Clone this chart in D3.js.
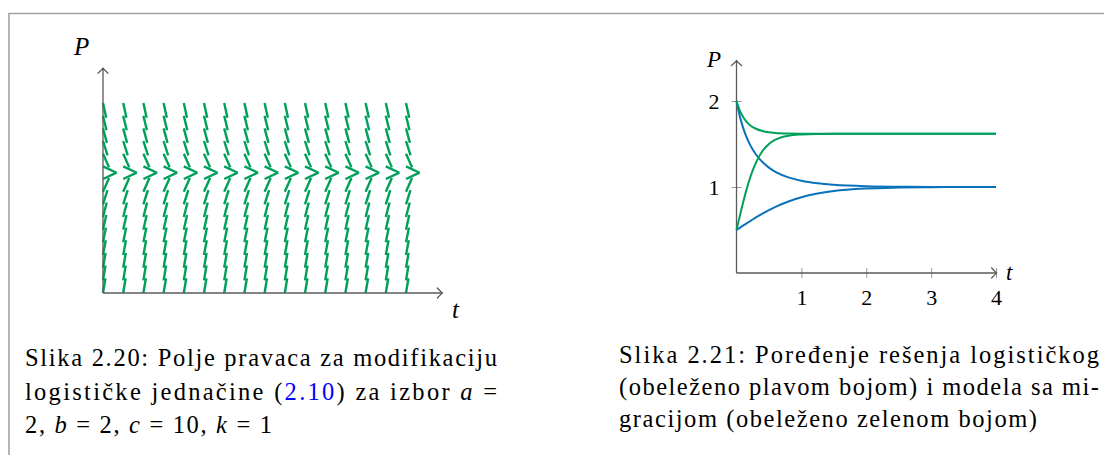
<!DOCTYPE html>
<html>
<head>
<meta charset="utf-8">
<script src="https://cdn.jsdelivr.net/npm/d3@7"></script>
<style>
  html, body { margin: 0; padding: 0; background: #fff; }
  svg { display: block; }
  #fig text, #fig tspan { font-family: "Liberation Serif", "Noto Serif CJK SC", monospace !important; }
</style>
</head>
<body>
<svg id="fig" width="1104" height="455"></svg>
<script>
// ---- Direction field (Slika 2.20): grid of t, P and slope dP/dt for each row ----
const fieldT = [0, 0.2, 0.4, 0.6, 0.8, 1.0, 1.2, 1.4, 1.6, 1.8, 2.0, 2.2, 2.4, 2.6, 2.8, 3.0];
const fieldP = [0, 0.2, 0.4, 0.6, 0.8, 1.0, 1.2, 1.4, 1.6, 1.8, 2.0, 2.2, 2.4, 2.6, 2.8, 3.0];
const fieldSlope = [9.6, 9.4, 9.0, 8.5, 7.9, 7.1, 6.2, 5.1, 3.6, 0.75, -0.75, -3.6, -5.0, -5.9, -6.6, -7.2];

// ---- Solution curves (Slika 2.21) ----
const solT          = [0, 0.05, 0.1, 0.15, 0.2, 0.25, 0.3, 0.4, 0.5, 0.6, 0.8, 1.0, 1.25, 1.5, 2, 2.5, 3, 3.5, 4];
const logisticLow   = [0.5, 0.525, 0.55, 0.574, 0.599, 0.622, 0.646, 0.69, 0.731, 0.769, 0.832, 0.881, 0.924, 0.953, 0.982, 0.993, 0.998, 0.999, 1.0];
const logisticHigh  = [2.0, 1.826, 1.693, 1.588, 1.504, 1.435, 1.378, 1.29, 1.225, 1.177, 1.112, 1.073, 1.043, 1.026, 1.009, 1.003, 1.001, 1.0, 1.0];
const migrationLow  = [0.5, 0.661, 0.815, 0.958, 1.084, 1.193, 1.284, 1.418, 1.501, 1.551, 1.597, 1.611, 1.617, 1.618, 1.618, 1.618, 1.618, 1.618, 1.618];
const migrationHigh = [2.0, 1.892, 1.817, 1.764, 1.725, 1.697, 1.677, 1.651, 1.636, 1.628, 1.621, 1.619, 1.618, 1.618, 1.618, 1.618, 1.618, 1.618, 1.618];

const tickT = [1, 2, 3, 4];
const tickP = [1, 2];

// ---- Captions: each line is a list of [text, style] pieces ----
const captionLeft = [
  [["Slika 2.20:  Polje pravaca za modifikaciju", ""]],
  [["logističke jednačine (", ""], ["2.10", "ref"], [") za izbor ", ""], ["a", "it"], [" =", ""]],
  [["2, ", ""], ["b", "it"], [" = 2, ", ""], ["c", "it"], [" = 10, ", ""], ["k", "it"], [" = 1", ""]]
];
const captionRight = [
  [["Slika 2.21:  Poređenje rešenja logističkog", ""]],
  [["(obeleženo plavom bojom) i modela sa mi-", ""]],
  [["gracijom (obeleženo zelenom bojom)", ""]]
];

const GREEN = "#00a05a";
const BLUE = "#0a72bb";
const AXIS = "#5a5a5a";

const svg = d3.select("#fig");

// frame
svg.append("path")
  .attr("d", "M9,455 V13.5 H1104")
  .attr("fill", "none").attr("stroke", "#a3a3a3").attr("stroke-width", 1.6);

// open arrow head pointing in direction `ang` (degrees) with tip at (x,y)
function arrowHead(g, x, y, ang) {
  g.append("path")
    .attr("d", "M-5,-5 Q-1.6,-1.2 0,0 Q-1.6,1.2 -5,5")
    .attr("transform", `translate(${x},${y}) rotate(${ang})`)
    .attr("fill", "none").attr("stroke", AXIS).attr("stroke-width", 1.3)
    .attr("stroke-linecap", "round");
}

function label(g, x, y, s, size, italic) {
  return g.append("text").attr("x", x).attr("y", y).text(s)
    .style("font-size", size + "px")
    .style("font-style", italic ? "italic" : "normal").attr("fill", "#000");
}

// ================= Left: direction field =================
const xL = d3.scaleLinear().domain([0, 3]).range([103, 406]);
const yL = d3.scaleLinear().domain([0, 3]).range([293, 103]);
const segLen = 15; // pixel length of each slope mark

const gL = svg.append("g");
const cells = [];
fieldT.forEach(t => fieldP.forEach((p, i) => cells.push({ t, p, s: fieldSlope[i] })));

gL.append("g").selectAll("line").data(cells).join("line")
  .each(function (d) {
    const x0 = xL(d.t), y0 = yL(d.p);
    const dx = xL(d.t + 1) - xL(d.t);
    const dy = yL(d.p + d.s) - yL(d.p);
    const n = Math.hypot(dx, dy);
    d3.select(this)
      .attr("x1", x0).attr("y1", y0)
      .attr("x2", x0 + segLen * dx / n).attr("y2", y0 + segLen * dy / n);
  })
  .attr("stroke", GREEN).attr("stroke-width", 2.4).attr("stroke-linecap", "butt");

// axes
gL.append("line").attr("x1", xL(0)).attr("y1", yL(0)).attr("x2", xL(3.36)).attr("y2", yL(0))
  .attr("stroke", AXIS).attr("stroke-width", 1.3);
gL.append("line").attr("x1", xL(0)).attr("y1", yL(0)).attr("x2", xL(0)).attr("y2", yL(3.55))
  .attr("stroke", AXIS).attr("stroke-width", 1.3);
arrowHead(gL, xL(3.36), yL(0), 0);
arrowHead(gL, xL(0), yL(3.55), -90);

label(gL, 74, 55, "P", 25, true);
label(gL, 452, 318, "t", 25, true);

// ================= Right: solution curves =================
const xR = d3.scaleLinear().domain([0, 4]).range([736.5, 996]);
const yR = d3.scaleLinear().domain([0, 2]).range([273, 101]);
const gR = svg.append("g");

// tick marks and labels through d3 axes
const axX = gR.append("g").attr("transform", `translate(0,${yR(0)})`)
  .call(d3.axisBottom(xR).tickValues(tickT).tickSize(0).tickFormat(d3.format("d")));
axX.select(".domain").remove();
axX.attr("font-family", null).attr("font-size", null);
axX.selectAll(".tick line").attr("y1", -5).attr("y2", 5).attr("stroke", "#9a9a9a").attr("stroke-width", 1);
axX.selectAll(".tick text").attr("y", 32).attr("dy", null).attr("fill", "#000")
  .style("font-size", "22px");

const axY = gR.append("g").attr("transform", `translate(${xR(0)},0)`)
  .call(d3.axisLeft(yR).tickValues(tickP).tickSize(0).tickFormat(d3.format("d")));
axY.select(".domain").remove();
axY.attr("font-family", null).attr("font-size", null);
axY.selectAll(".tick line").attr("x1", -5).attr("x2", 5).attr("stroke", "#9a9a9a").attr("stroke-width", 1);
axY.selectAll(".tick text").attr("x", -17).attr("dy", "0.33em").attr("fill", "#000")
  .style("font-size", "22px");

gR.append("line").attr("x1", xR(0)).attr("y1", yR(0)).attr("x2", xR(4.01)).attr("y2", yR(0))
  .attr("stroke", AXIS).attr("stroke-width", 1.3);
gR.append("line").attr("x1", xR(0)).attr("y1", yR(0)).attr("x2", xR(0)).attr("y2", yR(2.47))
  .attr("stroke", AXIS).attr("stroke-width", 1.3);
arrowHead(gR, xR(4.01), yR(0), 0);
arrowHead(gR, xR(0), yR(2.47), -90);

const line = d3.line().x(d => xR(d[0])).y(d => yR(d[1])).curve(d3.curveMonotoneX);
const series = [
  { v: logisticLow, c: BLUE }, { v: logisticHigh, c: BLUE },
  { v: migrationLow, c: GREEN }, { v: migrationHigh, c: GREEN }
];
gR.append("g").selectAll("path").data(series).join("path")
  .attr("d", s => line(solT.map((t, i) => [t, s.v[i]])))
  .attr("fill", "none").attr("stroke", s => s.c).attr("stroke-width", 2);

label(gR, 707, 67, "P", 23, true);
label(gR, 1006, 280, "t", 23, true);

// ================= Captions =================
function caption(lines, x0, baselines, widths) {
  lines.forEach((pieces, i) => {
    const txt = svg.append("text")
      .attr("x", x0).attr("y", baselines[i]).attr("fill", "#000")
      .style("font-size", "24.5px");
    pieces.forEach(([s, st]) => {
      const ts = txt.append("tspan").text(s);
      if (st === "it") ts.style("font-style", "italic");
      if (st === "ref") ts.attr("fill", "#0000ff");
    });
    if (widths[i]) txt.attr("textLength", widths[i]).attr("lengthAdjust", "spacing");
  });
}
caption(captionLeft, 25, [366, 400, 433], [472, 472, 247]);
caption(captionRight, 619, [363, 395, 427], [480, 480, 418]);
</script>
</body>
</html>
